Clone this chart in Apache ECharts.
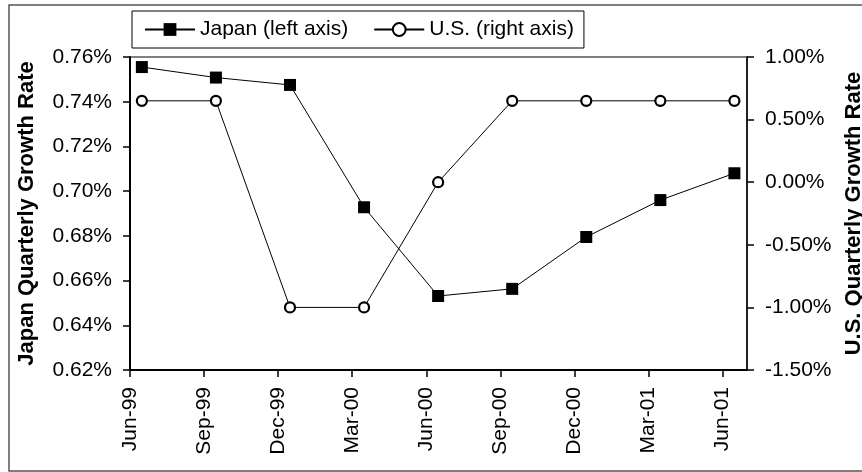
<!DOCTYPE html>
<html>
<head>
<meta charset="utf-8">
<script src="https://cdn.jsdelivr.net/npm/echarts@6/dist/echarts.min.js"></script>
<style>
  html, body { margin: 0; padding: 0; background: #fff; }
  #main { width: 862px; height: 472px; }
</style>
</head>
<body>
<div id="main"></div>
<script>
// quarter labels on the x axis
var quarters = ['Jun-99', 'Sep-99', 'Dec-99', 'Mar-00', 'Jun-00', 'Sep-00', 'Dec-00', 'Mar-01', 'Jun-01'];
// Japan quarterly growth rate, % (left axis)
var japan = [0.7555, 0.7508, 0.7475, 0.6928, 0.6531, 0.6563, 0.6795, 0.6960, 0.7080];
// U.S. quarterly growth rate, % (right axis)
var us = [0.65, 0.65, -1.00, -1.00, 0.00, 0.65, 0.65, 0.65, 0.65];

var font = '"Liberation Sans", Arial, sans-serif';
// points sit a little after each quarter tick, like the original date axis
var shift = 0.16;

function toPoints(arr) {
    var out = [];
    for (var i = 0; i < arr.length; i++) {
        out.push([i + shift, arr[i]]);
    }
    return out;
}

function pct(v) {
    return v.toFixed(2) + '%';
}

var myChart = echarts.init(document.getElementById('main'));

var option = {
    animation: false,
    backgroundColor: '#fff',
    textStyle: { fontFamily: font, color: '#000' },
    graphic: [{
        type: 'rect',
        shape: { x: 9, y: 5, width: 900, height: 466 },
        style: { fill: 'none', stroke: '#555', lineWidth: 1.5 },
        silent: true
    }],
    legend: {
        left: 132,
        top: 11,
        itemWidth: 50,
        itemHeight: 16,
        itemGap: 25,
        padding: [8, 10, 8, 12],
        borderColor: '#000',
        borderWidth: 1,
        backgroundColor: '#fff',
        textStyle: { fontFamily: font, fontSize: 21, color: '#000' },
        data: ['Japan (left axis)', 'U.S. (right axis)']
    },
    grid: {
        left: 130,
        right: 115,
        top: 57,
        bottom: 102,
        outerBoundsMode: 'none',
        show: true,
        borderColor: '#808080',
        borderWidth: 2,
        backgroundColor: '#fff'
    },
    xAxis: {
        type: 'value',
        min: 0,
        max: 8.33,
        interval: 1,
        axisLine: { onZero: false, lineStyle: { color: '#000', width: 2 } },
        axisTick: { show: true, inside: false, length: 7, lineStyle: { color: '#000', width: 1.5 } },
        axisLabel: {
            rotate: 90,
            margin: 17,
            fontSize: 21,
            fontFamily: font,
            color: '#000',
            showMaxLabel: false,
            formatter: function (v) {
                return Number.isInteger(v) ? quarters[v] : '';
            }
        },
        splitLine: { show: false }
    },
    yAxis: [{
        type: 'value',
        position: 'left',
        min: 0.62,
        max: 0.76,
        interval: 0.02,
        name: 'Japan Quarterly Growth Rate',
        nameLocation: 'middle',
        nameRotate: 90,
        nameGap: 92,
        nameTextStyle: { fontFamily: font, fontSize: 22, fontWeight: 'bold', color: '#000' },
        axisLine: { show: true, lineStyle: { color: '#000', width: 2 } },
        axisTick: { show: true, inside: false, length: 7, lineStyle: { color: '#000', width: 1.5 } },
        axisLabel: { margin: 18, fontSize: 21, fontFamily: font, color: '#000', formatter: pct },
        splitLine: { show: false }
    }, {
        type: 'value',
        position: 'right',
        min: -1.5,
        max: 1.0,
        interval: 0.5,
        name: 'U.S. Quarterly Growth Rate',
        nameLocation: 'middle',
        nameRotate: 90,
        nameGap: 95,
        nameTextStyle: { fontFamily: font, fontSize: 22, fontWeight: 'bold', color: '#000' },
        axisLine: { show: true, lineStyle: { color: '#000', width: 1.5 } },
        axisTick: { show: true, inside: false, length: 7, lineStyle: { color: '#000', width: 1.5 } },
        axisLabel: { margin: 18, fontSize: 21, fontFamily: font, color: '#000', formatter: pct },
        splitLine: { show: false }
    }],
    series: [{
        name: 'Japan (left axis)',
        type: 'line',
        yAxisIndex: 0,
        data: toPoints(japan),
        symbol: 'rect',
        symbolSize: 12,
        showAllSymbol: true,
        lineStyle: { color: '#000', width: 1 },
        itemStyle: { color: '#000', borderColor: '#000', borderWidth: 0 },
        z: 3
    }, {
        name: 'U.S. (right axis)',
        type: 'line',
        yAxisIndex: 1,
        data: toPoints(us),
        symbol: 'circle',
        symbolSize: 10,
        showAllSymbol: true,
        lineStyle: { color: '#000', width: 1 },
        itemStyle: { color: '#fff', borderColor: '#000', borderWidth: 2.2 },
        z: 2
    }]
};

myChart.setOption(option);
</script>
</body>
</html>
